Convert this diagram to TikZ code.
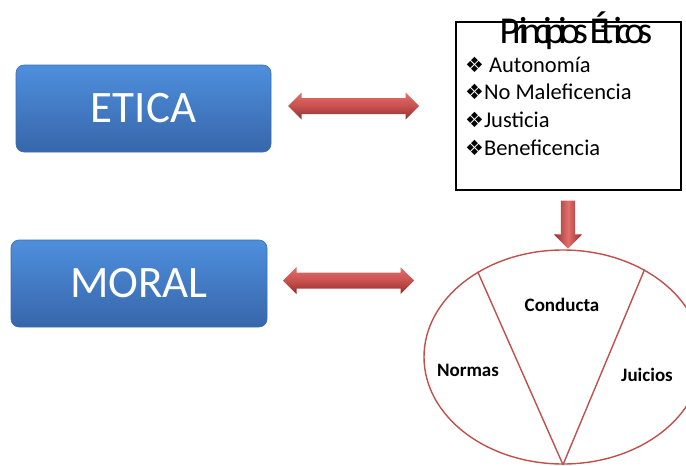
\documentclass[tikz,border=0pt]{standalone}
\usepackage{fontspec}
\setmainfont{Carlito}
\newfontfamily\symfont{DejaVu Sans}
\newfontfamily\titlefont[LetterSpace=-18]{Carlito}
\usepackage{xcolor}
\usepackage{tikz}
\usetikzlibrary{shapes.arrows,shapes.geometric}
\definecolor{boxtop}{HTML}{4E8FDD}
\definecolor{boxbot}{HTML}{3766AA}
\definecolor{boxedge}{HTML}{3A6DB3}
\definecolor{arrtop}{HTML}{E36F6C}
\definecolor{arrmid}{HTML}{C9514F}
\definecolor{arrbot}{HTML}{8E2F2D}
\definecolor{ring}{HTML}{C0504D}
\newcommand{\bul}{{\symfont\fontsize{21}{21}\selectfont ❖}}
\tikzset{
  concept/.style={rectangle, rounded corners=8pt, draw=boxedge, line width=0.6pt,
    top color=boxtop, bottom color=boxbot, text=white,
    font=\fontsize{45}{45}\selectfont, minimum height=87pt},
  dblarr/.style={double arrow, double arrow head extend=5.5pt, double arrow tip angle=90,
    inner xsep=0pt, inner ysep=7.8pt, top color=arrtop, bottom color=arrbot, middle color=arrmid},
  downarr/.style={single arrow, single arrow head extend=7pt, single arrow tip angle=90,
    minimum height=48pt, inner sep=7pt, shape border rotate=270,
    left color=arrbot, right color=arrbot, middle color=arrtop},
  listbox/.style={rectangle, draw=black, line width=1.3pt, minimum width=225pt, minimum height=168pt},
  item/.style={anchor=base west, inner sep=0pt, font=\fontsize{22.5}{22.5}\selectfont},
  seglabel/.style={font=\bfseries\fontsize{19}{19}\selectfont},
  ringline/.style={draw=ring, line width=1.4pt}
}

\begin{document}
\begin{tikzpicture}[x=1pt, y=-1pt]
  \useasboundingbox (0,0) rectangle (686,466);
  \clip (0,0) rectangle (686,466);

  \node[concept, minimum width=255pt] (etica) at (143.5,108.5) {ETICA};
  \node[concept, minimum width=256pt] (moral) at (139,283.5) {MORAL};

  \node[dblarr, minimum height=131pt] (flechaE) at (353.5,106) {};
  \node[dblarr, minimum height=131pt] (flechaM) at (348.5,280.5) {};

  \node[listbox] (principios) at (568.5,106) {};
  \node[anchor=base, inner sep=0pt, font=\titlefont\fontsize{38}{38}\selectfont] (titulo) at (576,43) {Principios Éticos};
  \node[item] (autonomia) at (465,72) {\bul\ Autonomía};
  \node[item] (nomal) at (465,99.5) {\bul No Maleficencia};
  \node[item] (justicia) at (465,127) {\bul Justicia};
  \node[item] (benef) at (465,155) {\bul Beneficencia};

  \node[downarr] (flechaD) at (568,221) {};

  \node[ellipse, ringline, minimum width=278pt, minimum height=214pt, inner sep=0pt] (circulo) at (563,357) {};
  \draw[ringline] (circulo.south) -- (circulo.135);
  \draw[ringline] (circulo.south) -- (circulo.47);

  \node[seglabel] (conducta) at (562,305) {Conducta};
  \node[seglabel] (normas) at (468,370) {Normas};
  \node[seglabel] (juicios) at (647,375) {Juicios};
\end{tikzpicture}
\end{document}
